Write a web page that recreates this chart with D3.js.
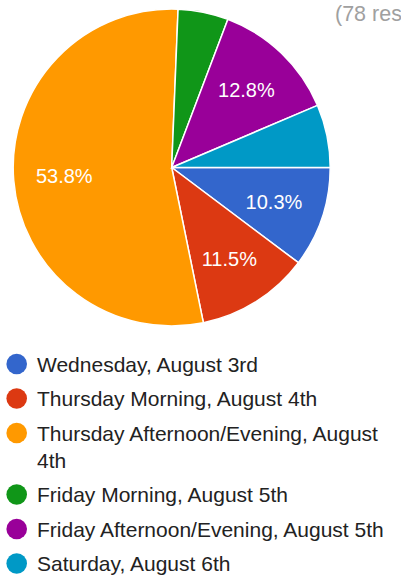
<!DOCTYPE html>
<html>
<head>
<meta charset="utf-8">
<script src="https://cdn.jsdelivr.net/npm/d3@7"></script>
<style>
  html, body { margin: 0; padding: 0; background: #fff; overflow: hidden; }
  svg { display: block; font-family: "Liberation Sans", Arial, sans-serif; }
</style>
</head>
<body>
<svg id="chart" width="401" height="578"></svg>
<script>
// Session choices and response counts
const categories = [
  "Wednesday, August 3rd",
  "Thursday Morning, August 4th",
  "Thursday Afternoon/Evening, August 4th",
  "Friday Morning, August 5th",
  "Friday Afternoon/Evening, August 5th",
  "Saturday, August 6th"
];
const counts = [8, 9, 42, 4, 10, 5];
const colors = ["#3366cc", "#dc3912", "#ff9900", "#109618", "#990099", "#0099c6"];
const responseNote = "(78 responses)";

const W = 401, H = 578;
const cx = 171.7, cy = 167.5, R = 158.5;
const total = d3.sum(counts);

const svg = d3.select("#chart");

// Response count note, running past the right edge of the view
svg.append("text")
  .attr("x", 335).attr("y", 21)
  .attr("font-size", 21.5)
  .attr("fill", "#a0a0a0")
  .text(responseNote);

const pie = d3.pie().sort(null).value(d => d)
  .startAngle(Math.PI / 2).endAngle(Math.PI / 2 + 2 * Math.PI);
const arcs = pie(counts);
const arc = d3.arc().innerRadius(0).outerRadius(R);
const labelArc = d3.arc().innerRadius(R * 0.68).outerRadius(R * 0.68);

const g = svg.append("g").attr("transform", `translate(${cx},${cy})`);

g.selectAll("path.slice")
  .data(arcs)
  .join("path")
  .attr("class", "slice")
  .attr("d", arc)
  .attr("fill", (d, i) => colors[i])
  .attr("stroke", "#fff")
  .attr("stroke-width", 1.5);

const fmt = d3.format(".1%");
g.selectAll("text.pct")
  .data(arcs.filter(d => d.value / total >= 0.1))
  .join("text")
  .attr("class", "pct")
  .attr("transform", d => `translate(${labelArc.centroid(d)})`)
  .attr("text-anchor", "middle")
  .attr("dy", "0.36em")
  .attr("font-size", 20)
  .attr("fill", "#fff")
  .text(d => fmt(d.value / total));

// Legend with wrapping labels
const legendX = 37, dotX = 16.7, dotR = 10.3;
const fontSize = 21, lineH = 27, rowGap = 34.5;
const maxW = W - legendX - 8;
let y = 364;
const legend = svg.append("g");
categories.forEach((name, i) => {
  legend.append("circle")
    .attr("cx", dotX).attr("cy", y).attr("r", dotR)
    .attr("fill", colors[i]);
  const t = legend.append("text")
    .attr("x", legendX)
    .attr("font-size", fontSize)
    .attr("fill", "#222");
  const words = name.split(" ");
  let lines = [], cur = "";
  const probe = legend.append("text").attr("font-size", fontSize);
  words.forEach(w => {
    const test = cur ? cur + " " + w : w;
    probe.text(test);
    if (probe.node().getComputedTextLength() > maxW && cur) {
      lines.push(cur); cur = w;
    } else cur = test;
  });
  lines.push(cur);
  probe.remove();
  lines.forEach((ln, k) => {
    t.append("tspan")
      .attr("x", legendX)
      .attr("y", y + k * lineH)
      .attr("dy", "0.36em")
      .text(ln);
  });
  y += (lines.length - 1) * lineH + rowGap;
});
</script>
</body>
</html>
